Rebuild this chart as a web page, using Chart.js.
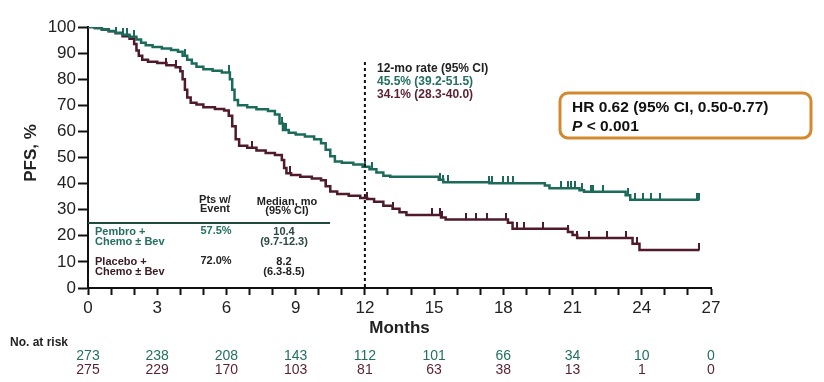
<!DOCTYPE html>
<html><head><meta charset="utf-8">
<script src="https://cdn.jsdelivr.net/npm/chart.js@4.4.1/dist/chart.umd.min.js"></script>
<style>html,body{margin:0;padding:0;background:#fff;}canvas{display:block;}</style>
</head><body>
<canvas id="c" width="824" height="382"></canvas>
<script>
// ---- Data ----
const pembroTime = [0,0.3,0.6,0.9,1.2,1.5,1.8,2.1,2.3,2.5,2.8,3.2,3.6,3.9,4.1,4.3,4.5,4.7,5.0,5.4,5.8,6.15,6.25,6.35,6.5,6.9,7.3,7.8,8.1,8.3,8.45,8.7,9.0,9.4,9.8,10.1,10.3,10.5,10.7,11.0,11.5,11.9,12.2,12.5,12.8,13.1,15.2,15.4,17.4,19.8,20.0,21.3,21.5,23.3,23.5,26.5];
const pembroSurv = [100,99.6,99,98.5,97.8,97,96.3,95.2,94,93,92.3,91.8,91.2,90.5,89,87.5,86,84.8,83.8,83.2,82.6,80,76,72,70,69.3,68.5,67.8,66.5,63,60.5,59.5,58.8,58,57,55.5,53,50.5,48.5,48,47.3,46.5,45.5,44.3,43,42.6,41.5,40.5,40.1,39.3,38.2,37.5,36.9,35.5,33.8,33.8];
const placeboTime = [0,0.3,0.6,0.9,1.2,1.5,1.8,2.0,2.1,2.2,2.35,2.6,3.0,3.4,3.8,4.0,4.1,4.2,4.3,4.45,4.7,5.0,5.5,5.9,6.1,6.25,6.4,6.55,6.9,7.3,7.7,8.1,8.4,8.5,8.6,8.8,9.2,9.7,10.1,10.3,10.5,10.8,11.3,11.8,12.1,12.4,12.8,13.2,13.5,13.8,15.3,15.5,18.2,18.4,20.8,21.0,21.2,23.6,23.9,26.5];
const placeboSurv = [100,99.6,99,98.4,97.6,96.5,95.5,93.5,91,89,87.5,86.7,86.2,85.3,84.6,83,80,76,73,71,70.3,69.3,68.6,68,66,62,57,54.5,53.7,52.7,51.7,51,49,46,44,43.3,42.6,42,41.3,39,37,36,35.3,34.5,34.1,33,31.5,30.4,29,28,27,26.2,25,22.7,21.5,20.3,19.2,17,14.6,14.6];
const pembroCensor = [0.2,1.2,1.5,1.7,2.0,4.2,6.1,8.4,8.5,8.6,12.0,12.3,15.25,15.4,15.6,17.4,17.5,18.0,18.2,18.4,20.5,20.8,20.95,21.1,21.4,21.8,21.9,22.3,23.4,23.7,24.05,24.4,24.8,26.4,26.5];
const placeboCensor = [3.4,3.8,7.1,8.75,10.3,12.1,13.2,14.9,15.25,15.35,16.4,16.8,17.3,18.1,18.6,18.9,19.7,20.8,21.2,21.7,22.5,23.3,23.8,26.5];
const monthTicks = [0,3,6,9,12,15,18,21,24,27];
const atRiskPembro = [273,238,208,143,112,101,66,34,10,0];
const atRiskPlacebo = [275,229,170,103,81,63,38,13,1,0];

const GREEN = '#1b6b5b';
const RED = '#4f1a2a';
const GREEN_TXT = '#23705f';
const RED_TXT = '#5a1f30';

function survAt(times, surv, t){
  let v = surv[0];
  for (let i=0;i<times.length;i++){ if (times[i] <= t) v = surv[i]; else break; }
  return v;
}
function tickImg(color){
  const c=document.createElement('canvas'); c.width=2; c.height=14;
  const g=c.getContext('2d'); g.fillStyle=color; g.fillRect(0,0,2,7); return c;
}
const pembroPts = pembroTime.map((t,i)=>({x:t,y:pembroSurv[i]}));
const placeboPts = placeboTime.map((t,i)=>({x:t,y:placeboSurv[i]}));
const pembroCens = pembroCensor.map(t=>({x:t,y:survAt(pembroTime,pembroSurv,t)}));
const placeboCens = placeboCensor.map(t=>({x:t,y:survAt(placeboTime,placeboSurv,t)}));

const overlay = {
  id:'overlay',
  afterDraw(chart){
    const ctx = chart.ctx, xs = chart.scales.x, ys = chart.scales.y;
    ctx.save();
    const x12 = xs.getPixelForValue(12);
    ctx.strokeStyle='#111'; ctx.lineWidth=2; ctx.setLineDash([3,3]);
    ctx.beginPath(); ctx.moveTo(x12, 62); ctx.lineTo(x12, ys.getPixelForValue(0)); ctx.stroke();
    ctx.setLineDash([]);
    ctx.save(); ctx.translate(31,153); ctx.rotate(-Math.PI/2);
    ctx.font='bold 17px "Liberation Sans", Arial, sans-serif'; ctx.fillStyle='#222';
    ctx.textAlign='center'; ctx.textBaseline='middle'; ctx.fillText('PFS, %',0,0); ctx.restore();
    ctx.font='bold 17px "Liberation Sans", Arial, sans-serif'; ctx.fillStyle='#222';
    ctx.textAlign='center'; ctx.textBaseline='middle';
    ctx.fillText('Months', (xs.left+xs.right)/2, 328);
    ctx.textAlign='left';
    ctx.font='bold 12px "Liberation Sans", Arial, sans-serif';
    ctx.fillStyle='#222'; ctx.fillText('12-mo rate (95% CI)', 377, 69);
    ctx.fillStyle=GREEN_TXT; ctx.fillText('45.5% (39.2-51.5)', 377, 82);
    ctx.fillStyle=RED_TXT; ctx.fillText('34.1% (28.3-40.0)', 377, 95);
    ctx.strokeStyle='#d4892f'; ctx.lineWidth=3;
    ctx.beginPath(); ctx.roundRect(560, 93, 251, 45, 8); ctx.stroke();
    ctx.fillStyle='#111';
    ctx.font='bold 15.5px "Liberation Sans", Arial, sans-serif';
    ctx.fillText('HR 0.62 (95% CI, 0.50-0.77)', 572, 108);
    ctx.font='italic bold 15.5px "Liberation Sans", Arial, sans-serif';
    ctx.fillText('P', 572, 127);
    const pw = ctx.measureText('P').width;
    ctx.font='bold 15.5px "Liberation Sans", Arial, sans-serif';
    ctx.fillText(' < 0.001', 572+pw, 127);
    ctx.font='bold 11px "Liberation Sans", Arial, sans-serif';
    ctx.textAlign='center'; ctx.fillStyle='#222';
    ctx.fillText('Pts w/', 215, 200); ctx.fillText('Event', 215, 209);
    ctx.fillText('Median, mo', 287, 202); ctx.fillText('(95% CI)', 287, 211);
    ctx.strokeStyle='#1e4a40'; ctx.lineWidth=2;
    ctx.beginPath(); ctx.moveTo(88,223); ctx.lineTo(330,223); ctx.stroke();
    ctx.textAlign='left'; ctx.fillStyle=GREEN_TXT;
    ctx.fillText('Pembro +', 95, 232); ctx.fillText('Chemo \u00b1 Bev', 95, 242);
    ctx.textAlign='center';
    ctx.fillText('57.5%', 216, 231);
    ctx.fillStyle='#2a4a44';
    ctx.fillText('10.4', 284, 232); ctx.fillText('(9.7-12.3)', 284, 242);
    ctx.textAlign='left'; ctx.fillStyle='#3a1a22';
    ctx.fillText('Placebo +', 95, 262); ctx.fillText('Chemo \u00b1 Bev', 95, 272);
    ctx.textAlign='center'; ctx.fillStyle='#222';
    ctx.fillText('72.0%', 216, 261);
    ctx.fillText('8.2', 284, 262); ctx.fillText('(6.3-8.5)', 284, 272);
    ctx.textAlign='left';
    ctx.font='bold 12px "Liberation Sans Narrow", "Liberation Sans", Arial, sans-serif';
    ctx.fillStyle='#222'; ctx.fillText('No. at risk', 10, 343);
    ctx.textAlign='center';
    ctx.font='14px "Liberation Sans Narrow", "Liberation Sans", Arial, sans-serif';
    monthTicks.forEach((m,i)=>{
      const px = xs.getPixelForValue(m);
      ctx.fillStyle=GREEN_TXT; ctx.fillText(String(atRiskPembro[i]), px, 356);
      ctx.fillStyle=RED_TXT; ctx.fillText(String(atRiskPlacebo[i]), px, 370);
    });
    ctx.restore();
  }
};

new Chart(document.getElementById('c'), {
  type:'line',
  data:{ datasets:[
    {data:pembroPts, borderColor:GREEN, borderWidth:2.5, stepped:true, pointRadius:0, fill:false},
    {data:placeboPts, borderColor:RED, borderWidth:2.5, stepped:true, pointRadius:0, fill:false},
    {data:pembroCens, showLine:false, pointStyle:tickImg(GREEN), pointRadius:4},
    {data:placeboCens, showLine:false, pointStyle:tickImg(RED), pointRadius:4}
  ]},
  options:{
    responsive:false, animation:false,
    layout:{padding:{left:0,right:113,top:27,bottom:54}},
    plugins:{legend:{display:false}, tooltip:{enabled:false}},
    scales:{
      x:{type:'linear', min:0, max:27,
        afterFit:s=>{s.height=40;},
        ticks:{stepSize:1, autoSkip:false, maxRotation:0, padding:3, color:'#222',
          font:{size:17, family:'"Liberation Sans Narrow", "Liberation Sans", Arial, sans-serif'},
          callback:v=> (v%3===0 ? String(v) : '')},
        grid:{drawOnChartArea:false, drawTicks:true, tickLength:7, color:'#111', tickWidth:2},
        border:{display:true, color:'#111', width:2}
      },
      y:{min:0, max:100,
        afterFit:s=>{s.width=88;},
        ticks:{stepSize:10, padding:2, color:'#222',
          font:{size:17, family:'"Liberation Sans", Arial, sans-serif'}},
        grid:{drawOnChartArea:false, drawTicks:true, tickLength:10, color:'#111', tickWidth:2},
        border:{display:true, color:'#111', width:2}
      }
    }
  },
  plugins:[overlay]
});
</script>
</body></html>
